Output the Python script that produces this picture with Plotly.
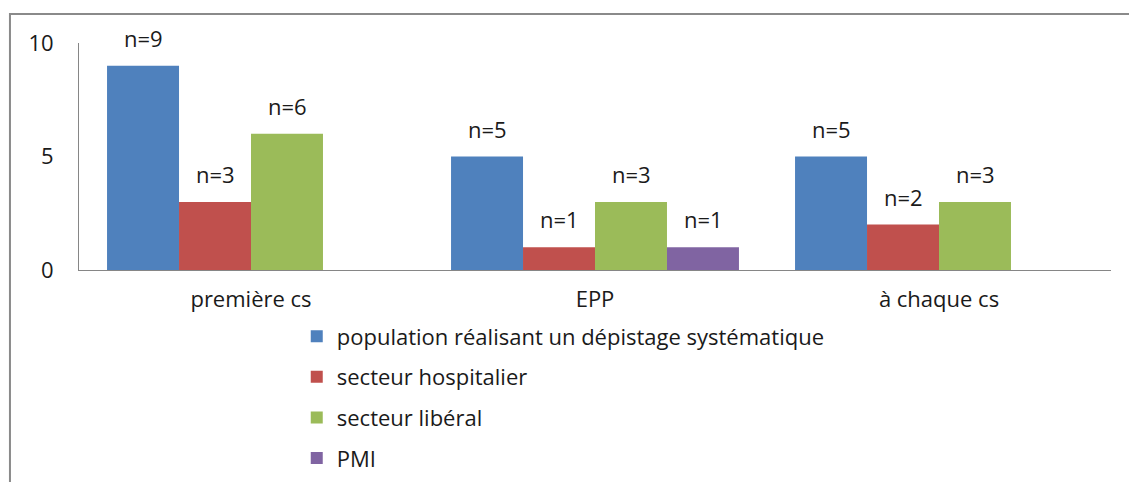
import plotly.graph_objects as go

categories = ["première cs", "EPP", "à chaque cs"]
series_names = [
    "population réalisant un dépistage systématique",
    "secteur hospitalier",
    "secteur libéral",
    "PMI",
]
population = [9, 5, 5]
hospitalier = [3, 1, 2]
liberal = [6, 3, 3]
pmi = [None, 1, None]
y_ticks = [0, 5, 10]

colors = ["#4F81BD", "#C0504D", "#9BBB59", "#8064A2"]
FONT = "Open Sans, sans-serif"
FS = 22
BAR_PX = 72  # approx pixel width of one bar, for label offsets

fig = go.Figure()
annotations = []
all_vals = [population, hospitalier, liberal, pmi]
for i, (name, vals) in enumerate(zip(series_names, all_vals)):
    fig.add_trace(go.Bar(
        x=categories, y=vals, name=name,
        marker=dict(color=colors[i], line=dict(width=0)),
        legendgroup=str(i),
    ))
    for cat, v in zip(categories, vals):
        if v is None:
            continue
        annotations.append(dict(
            x=cat, y=v, xref="x", yref="y", text=f"n={v}",
            showarrow=False, yanchor="bottom", yshift=11,
            xshift=(i - 1.5) * BAR_PX, font=dict(size=FS, color="#1a1a1a"),
        ))

fig.update_layout(
    width=1129, height=482,
    margin=dict(l=79, r=18, t=43, b=212, autoexpand=False),
    paper_bgcolor="white", plot_bgcolor="white",
    font=dict(family=FONT, size=FS, color="#1a1a1a"),
    barmode="group",
    bargap=0.163, bargroupgap=0,
    showlegend=True,
    legend=dict(
        x=0.211, xanchor="left", y=-0.2, yanchor="top",
        font=dict(size=FS), tracegroupgap=9,
        itemclick=False,
    ),
    xaxis=dict(
        showline=True, linecolor="#868686", linewidth=1,
        ticks="outside", ticklen=10, tickcolor="white",
        showgrid=False, tickfont=dict(size=FS),
    ),
    yaxis=dict(
        range=[0, 10], tickvals=y_ticks, showline=True, linecolor="#868686",
        linewidth=1, showgrid=False, zeroline=False, ticks="outside",
        ticklen=20, tickcolor="white", tickfont=dict(size=FS),
    ),
    annotations=annotations,
    shapes=[dict(
        type="rect", xref="paper", yref="paper",
        x0=-0.0669, x1=1.2, y0=-1.5, y1=1.128,
        line=dict(color="#8a8a8a", width=2), fillcolor="rgba(0,0,0,0)",
        layer="below",
    )],
)

fig.write_html("out.html", config={"displayModeBar": False},
               post_script="document.body.style.margin='0';")
